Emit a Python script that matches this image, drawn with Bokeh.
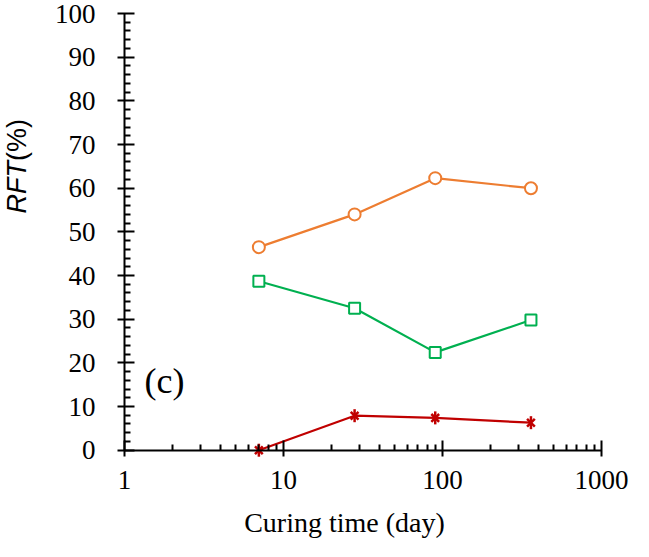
import math
from bokeh.plotting import figure
from bokeh.models import (Range1d, FixedTicker, Label, LogAxis, LinearAxis,
                          LogScale)
from bokeh.embed import file_html
from bokeh.resources import INLINE

# ---- data ----
curing_days = [7, 28, 90, 360]
rft_orange = [46.5, 54.0, 62.3, 60.0]
rft_green = [38.7, 32.5, 22.4, 29.8]
rft_red = [0.0, 7.9, 7.4, 6.3]

x_ticks = [1, 10, 100, 1000]
x_tick_labels = ["1", "10", "100", "1000"]
x_minor = [2, 3, 4, 5, 6, 7, 8, 9, 20, 30, 40, 50, 60, 70, 80, 90,
           200, 300, 400, 500, 600, 700, 800, 900]
y_ticks = [0, 10, 20, 30, 40, 50, 60, 70, 80, 90, 100]
y_tick_labels = [str(v) for v in y_ticks]
y_minor = [v for v in range(0, 101, 2) if v % 10 != 0]

ORANGE = "#ED7D31"
GREEN = "#00B050"
RED = "#C00000"
SERIF = "Liberation Serif"

# ---- layout (pixels) ----
W, H = 633, 541
DECADE = 159.0      # px per decade
X1_PX = 124.0       # px position of x = 1
UNIT = 4.367        # px per y unit
Y100_PX = 13.0      # px position of y = 100 (from top)
Y0_PX = Y100_PX + 100 * UNIT

x_start = 10 ** (-X1_PX / DECADE)
x_end = 10 ** ((W - X1_PX) / DECADE)
y_end = 100 + Y100_PX / UNIT
y_start = -(H - Y0_PX) / UNIT


def xpx(dpx):
    """x data value that lies dpx pixels right of x = 1"""
    return 10 ** (dpx / DECADE)


p = figure(width=W, height=H, x_axis_type=None, y_axis_type=None,
           x_range=Range1d(x_start, x_end), y_range=Range1d(y_start, y_end),
           output_backend="svg", toolbar_location=None, min_border=0)
p.x_scale = LogScale()
p.outline_line_color = None
p.background_fill_color = "white"
p.border_fill_color = "white"

xa = LogAxis(fixed_location=0, bounds=(1, 1000),
             ticker=FixedTicker(ticks=x_ticks, minor_ticks=x_minor),
             major_label_overrides=dict(zip(x_ticks, x_tick_labels)))
ya = LinearAxis(fixed_location=1, bounds=(0, 100),
                ticker=FixedTicker(ticks=y_ticks, minor_ticks=y_minor),
                major_label_overrides=dict(zip(y_ticks, y_tick_labels)))
for ax in (xa, ya):
    ax.axis_line_color = "black"
    ax.axis_line_width = 2
    ax.major_tick_line_color = "black"
    ax.major_tick_line_width = 2
    ax.minor_tick_line_color = "black"
    ax.minor_tick_line_width = 2
    ax.major_tick_in = 10
    ax.minor_tick_in = 6
    ax.minor_tick_out = 0
    ax.major_label_text_font = SERIF
    ax.major_label_text_font_size = "27px"
    ax.major_label_text_color = "black"
xa.major_tick_out = 6
xa.major_label_standoff = 15
ya.major_tick_out = 7
ya.major_label_standoff = 22
p.add_layout(xa, "below")
p.add_layout(ya, "left")

# series
p.line(curing_days, rft_orange, line_color=ORANGE, line_width=2.2)
p.scatter(curing_days, rft_orange, marker="circle", size=12,
          line_color=ORANGE, line_width=2, fill_color="white")
p.line(curing_days, rft_green, line_color=GREEN, line_width=2.2)
p.scatter(curing_days, rft_green, marker="square", size=11,
          line_color=GREEN, line_width=2, fill_color="white")
p.line(curing_days, rft_red, line_color=RED, line_width=2.2)
p.scatter(curing_days, rft_red, marker="x", size=11,
          line_color=RED, line_width=2.5)
p.scatter(curing_days, rft_red, marker="dash", size=13, angle=math.pi / 2,
          line_color=RED, line_width=2.5)

# texts
p.add_layout(Label(x=xpx(20), y=15.8, text="(c)", text_font=SERIF,
                   text_font_size="36px", text_color="black",
                   text_align="left", text_baseline="middle"))
p.add_layout(Label(x=xpx(220), y=-72 / UNIT, text="Curing time (day)",
                   text_font=SERIF, text_font_size="28px", text_color="black",
                   text_align="center", text_baseline="middle"))
p.add_layout(Label(x=xpx(-108), y=54.2, text="RFT", text_font="Liberation Sans",
                   text_font_style="italic", text_font_size="27px",
                   text_color="black", angle=math.pi / 2,
                   text_align="left", text_baseline="middle"))
p.add_layout(Label(x=xpx(-108), y=66.2, text="(%)", text_font="Liberation Sans",
                   text_font_size="27px", text_color="black",
                   angle=math.pi / 2, text_align="left", text_baseline="middle"))

open("out.html", "w").write(file_html(p, INLINE))
